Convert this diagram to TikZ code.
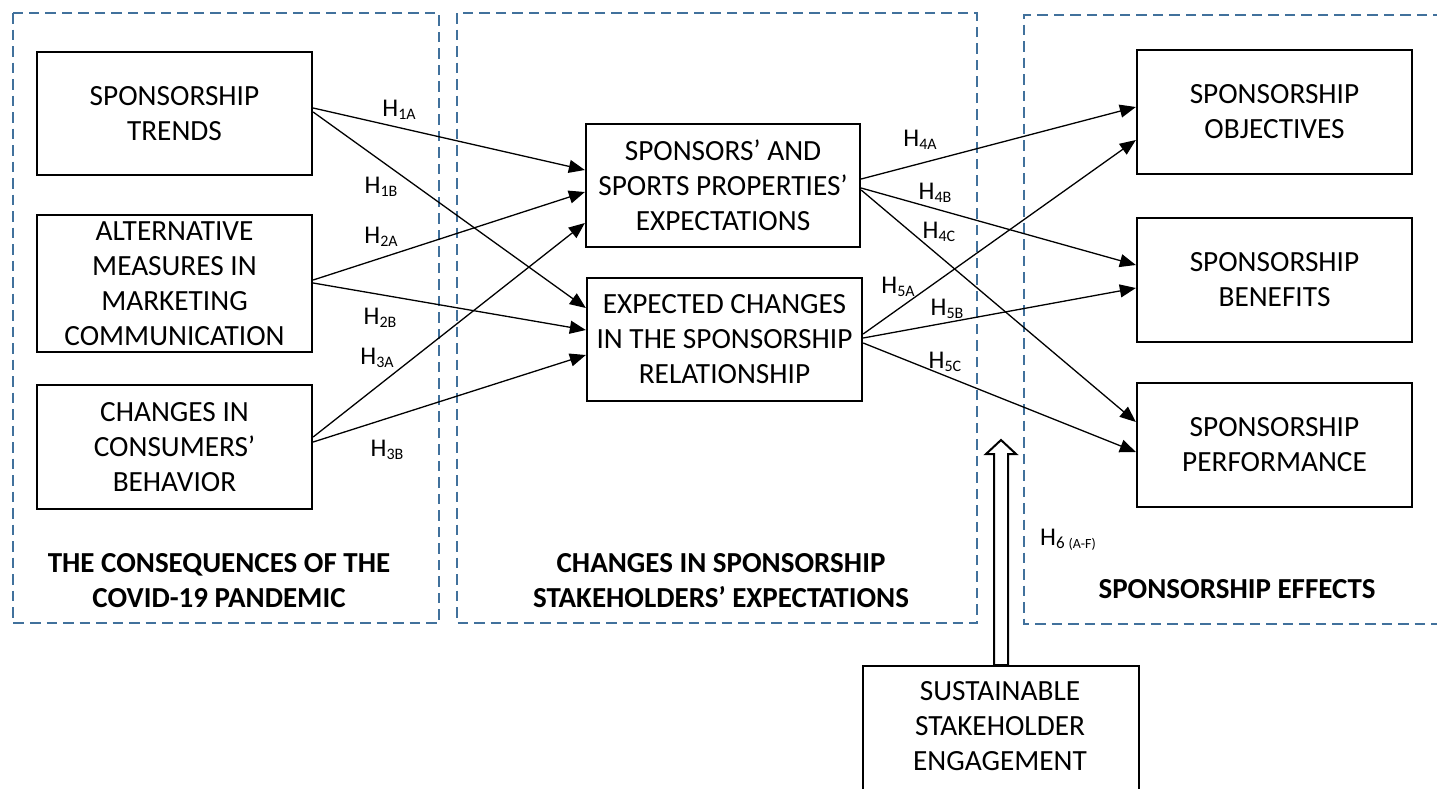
\documentclass[tikz,border=0pt]{standalone}
\usepackage{fontspec}
\setmainfont{Carlito}
\usetikzlibrary{arrows.meta}
\definecolor{dashblue}{RGB}{65,113,156}
\newcommand\hyplab[1]{H\raisebox{-3.5pt}{\fontsize{16}{16}\selectfont #1}}
\begin{document}
\begin{tikzpicture}[x=1pt,y=-1pt,
  box/.style={draw=black, line width=2.3pt, minimum width=275pt, minimum height=124pt, inner sep=0pt, align=center, font=\fontsize{29.3}{35}\selectfont},
  boxtext/.style={inner sep=0pt, align=center, font=\fontsize{29.3}{35}\selectfont},
  region/.style={draw=dashblue, line width=2.5pt, dash pattern=on 10.5pt off 6pt},
  title/.style={align=center, inner sep=0pt, font=\fontsize{29}{35}\selectfont\bfseries},
  hyp/.style={inner sep=0pt, font=\fontsize{25.5}{25.5}\selectfont},
  link/.style={draw=black, line width=1.3pt, -{Triangle[length=16pt,width=13pt]}},
  hollow/.style={draw=black, line width=2pt, fill=white, line join=miter},
]
\useasboundingbox (0,0) rectangle (1437,788);
\clip (0,0) rectangle (1437,788);

% regions
\draw[region] (13,13) rectangle (439,623);
\draw[region] (457,13) rectangle (977,623);
\draw[region] (1460,15) -| (1024,624) -- (1460,624);

% left boxes
\node[box, minimum height=123pt] (st) at (174.5,113.5) {SPONSORSHIP\\TRENDS};
\node[box, minimum height=137pt] (am) at (174.5,283.5) {ALTERNATIVE\\MEASURES IN\\MARKETING\\COMMUNICATION};
\node[box] (cc) at (174.5,447) {CHANGES IN\\CONSUMERS’\\BEHAVIOR};

% middle boxes
\node[box, minimum width=274pt, minimum height=123pt] (se) at (723,185.5) {SPONSORS’ AND\\SPORTS PROPERTIES’\\EXPECTATIONS};
\node[box, minimum width=275pt, minimum height=123pt] (ec) at (724.5,339.5) {EXPECTED CHANGES\\IN THE SPONSORSHIP\\RELATIONSHIP};

% right boxes
\node[box] (so) at (1274.5,112) {SPONSORSHIP\\OBJECTIVES};
\node[box] (sb) at (1274.5,280) {SPONSORSHIP\\BENEFITS};
\node[box] (sp) at (1274.5,445) {SPONSORSHIP\\PERFORMANCE};

% sustainable stakeholder engagement (cut by the lower edge)
\node[box, minimum width=276pt, minimum height=170pt, anchor=north] (sse) at (1001,665) {};
\node[boxtext] (ssetext) at (1000,726) {SUSTAINABLE\\STAKEHOLDER\\ENGAGEMENT};

% hollow arrow
\draw[hollow] ([xshift=-7pt]sse.north) -- ++(0,-211) -- ++(-8,0) -- ++(15,-14) -- ++(15,14) -- ++(-8,0) -- ++(0,211) -- cycle;

% titles
\node[title] (t1) at (219,580.5) {THE CONSEQUENCES OF THE\\COVID-19 PANDEMIC};
\node[title] (t2) at (721,580.5) {CHANGES IN SPONSORSHIP\\STAKEHOLDERS’ EXPECTATIONS};
\node[title] (t3) at (1237,589) {SPONSORSHIP EFFECTS};

% connectors left -> middle
\draw[link] ([yshift=5.5pt]st.east) -- ([yshift=15.5pt]se.west);
\draw[link] ([yshift=1.5pt]st.east) -- ([yshift=31.5pt]ec.west);
\draw[link] ([yshift=3.5pt]am.east) -- ([yshift=-6.5pt]se.west);
\draw[link] ([yshift=0.5pt]am.east) -- ([yshift=9.5pt]ec.west);
\draw[link] ([yshift=10pt]cc.east) -- ([yshift=-37.5pt]se.west);
\draw[link] ([yshift=5pt]cc.east) -- ([yshift=-15.5pt]ec.west);

% connectors middle -> right
\draw[link] ([yshift=6.5pt]se.east) -- ([yshift=5pt]so.west);
\draw[link] ([yshift=-2.5pt]se.east) -- ([yshift=15pt]sb.west);
\draw[link] ([yshift=-4.5pt]se.east) -- ([yshift=23pt]sp.west);
\draw[link] ([yshift=5.5pt]ec.east) -- ([yshift=-28pt]so.west);
\draw[link] ([yshift=1.5pt]ec.east) -- ([yshift=-8pt]sb.west);
\draw[link] ([yshift=-3.5pt]ec.east) -- ([yshift=-7pt]sp.west);

% hypothesis labels
\node[hyp] (h1a) at (399,110) {\hyplab{1A}};
\node[hyp] (h1b) at (381,187) {\hyplab{1B}};
\node[hyp] (h2a) at (381,237) {\hyplab{2A}};
\node[hyp] (h2b) at (380,318) {\hyplab{2B}};
\node[hyp] (h3a) at (377,358) {\hyplab{3A}};
\node[hyp] (h3b) at (387,450) {\hyplab{3B}};
\node[hyp] (h4a) at (920,140) {\hyplab{4A}};
\node[hyp] (h4b) at (935,193) {\hyplab{4B}};
\node[hyp] (h4c) at (939,232) {\hyplab{4C}};
\node[hyp] (h5a) at (898,287) {\hyplab{5A}};
\node[hyp] (h5b) at (947,309) {\hyplab{5B}};
\node[hyp] (h5c) at (945,362) {\hyplab{5C}};
\node[hyp] (h6) at (1068,540) {H\raisebox{-3.5pt}{\fontsize{17}{17}\selectfont 6 \fontsize{14}{14}\selectfont (A-F)}};
\end{tikzpicture}
\end{document}
